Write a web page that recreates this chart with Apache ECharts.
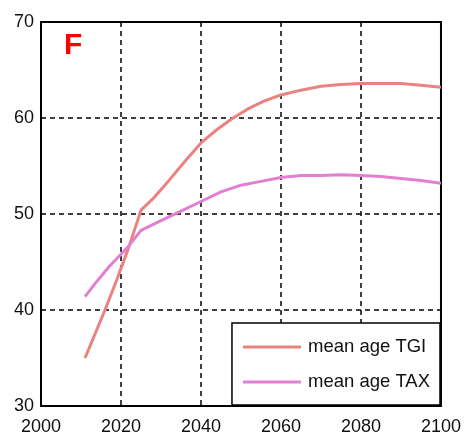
<!DOCTYPE html>
<html><head><meta charset="utf-8">
<script src="https://cdn.jsdelivr.net/npm/echarts@6/dist/echarts.min.js"></script>
<style>html,body{margin:0;padding:0;background:#fff}#c{width:464px;height:441px}</style>
</head><body><div id="c"></div>
<script>
const tgiYears = [2011,2013,2016,2019,2022,2025,2028,2032,2036,2040,2044,2048,2052,2056,2060,2065,2070,2075,2080,2085,2090,2095,2100];
const tgiValues = [35.0,37.0,40.0,43.2,46.6,50.4,51.6,53.5,55.5,57.4,58.8,60.0,61.0,61.8,62.4,62.9,63.3,63.5,63.6,63.6,63.6,63.4,63.2];
const taxYears = [2011,2014,2017,2020,2022,2025,2030,2035,2040,2045,2050,2055,2060,2065,2070,2075,2080,2085,2090,2095,2100];
const taxValues = [41.4,43.0,44.5,45.8,46.7,48.3,49.3,50.3,51.3,52.3,53.0,53.4,53.8,54.0,54.0,54.1,54.0,53.9,53.7,53.5,53.2];
const seriesNames = ['mean age TGI','mean age TAX'];
const panelLabel = 'F';

const font = '"Liberation Sans",Arial,sans-serif';
const chart = echarts.init(document.getElementById('c'), null, {renderer:'canvas'});
const grid = {left:41, right:23, top:22, bottom:35, show:true, borderColor:'#000', borderWidth:2, backgroundColor:'transparent'};
const split = {show:true, lineStyle:{color:'#000', width:1.5, type:[5,4]}};
chart.setOption({
  animation:false,
  backgroundColor:'#fff',
  title:{text:panelLabel, left:59, top:26, textStyle:{color:'#ff0000', fontSize:30, fontWeight:'bold', fontFamily:font}},
  grid:grid,
  xAxis:{type:'value', min:2000, max:2100, interval:20,
    axisLine:{show:true, lineStyle:{color:'#000', width:2}}, axisTick:{show:false},
    axisLabel:{color:'#111', fontSize:18, fontFamily:font, margin:12, formatter:v=>String(v)},
    splitLine:split},
  yAxis:{type:'value', min:30, max:70, interval:10,
    axisLine:{show:true, lineStyle:{color:'#000', width:2}}, axisTick:{show:false},
    axisLabel:{color:'#111', fontSize:18, fontFamily:font, margin:7},
    splitLine:split},
  legend:{orient:'vertical', right:24, bottom:36, backgroundColor:'#fff', borderColor:'#000', borderWidth:1.5,
    padding:[12,10,11,11], itemGap:11, itemWidth:58, itemHeight:3, icon:'rect',
    textStyle:{color:'#111', fontSize:18.5, fontFamily:font, lineHeight:24, padding:[0,0,0,2]},
    data:seriesNames},
  series:[
    {name:seriesNames[0], type:'line', symbol:'none', smooth:false,
      data:tgiYears.map((y,i)=>[y,tgiValues[i]]), lineStyle:{color:'#E8837F', width:3}, itemStyle:{color:'#E8837F'}},
    {name:seriesNames[1], type:'line', symbol:'none', smooth:false,
      data:taxYears.map((y,i)=>[y,taxValues[i]]), lineStyle:{color:'#E27FD0', width:3}, itemStyle:{color:'#E27FD0'}}
  ]
});
</script></body></html>
